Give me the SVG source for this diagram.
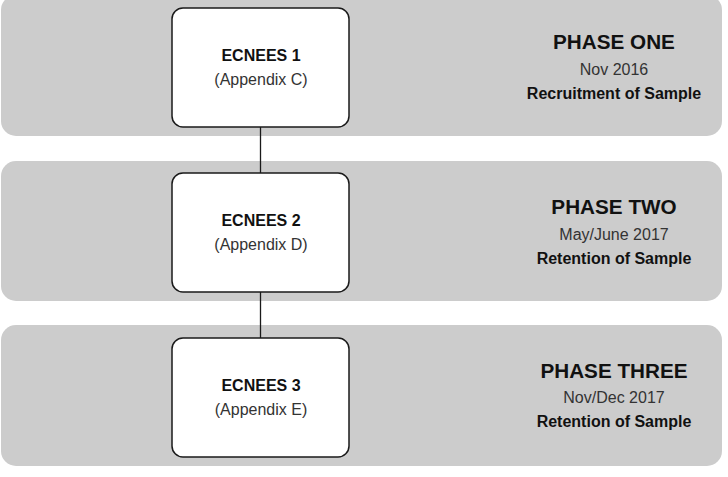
<svg xmlns="http://www.w3.org/2000/svg" width="728" height="477" viewBox="0 0 728 477">
<style>
.band{fill:#cccccc;stroke:none}
.node{fill:#ffffff;stroke:#1a1a1a;stroke-width:1.5}
.conn{stroke:#1a1a1a;stroke-width:1.3;fill:none}
text{font-family:"Liberation Sans",Arial,sans-serif;text-anchor:middle;fill:#111}
.nt{font-size:16px;font-weight:bold}
.ns{font-size:16px;fill:#333}
.pt{font-size:20.7px;font-weight:bold}
.pd{font-size:16px;fill:#333}
.pb{font-size:16px;font-weight:bold}
</style>
<g id="bands">
<rect class="band" x="1" y="-5" width="721" height="141" rx="15"/>
<rect class="band" x="1" y="161" width="721" height="140" rx="15"/>
<rect class="band" x="1" y="325" width="721" height="141" rx="15"/>
</g>
<g id="phase1">
<text class="pt" x="614" y="49">PHASE ONE</text>
<text class="pd" x="614" y="75">Nov 2016</text>
<text class="pb" x="614" y="99">Recruitment of Sample</text>
</g>
<g id="phase2">
<text class="pt" x="614" y="214">PHASE TWO</text>
<text class="pd" x="614" y="240">May/June 2017</text>
<text class="pb" x="614" y="264">Retention of Sample</text>
</g>
<g id="phase3">
<text class="pt" x="614" y="378">PHASE THREE</text>
<text class="pd" x="614" y="403">Nov/Dec 2017</text>
<text class="pb" x="614" y="427">Retention of Sample</text>
</g>
<g id="connectors">
<line class="conn" x1="260.5" y1="127" x2="260.5" y2="173"/>
<line class="conn" x1="260.5" y1="292" x2="260.5" y2="338"/>
</g>
<g id="node1">
<rect class="node" x="172" y="8" width="177" height="119" rx="11"/>
<text class="nt" x="261" y="61">ECNEES 1</text>
<text class="ns" x="261" y="85">(Appendix C)</text>
</g>
<g id="node2">
<rect class="node" x="172" y="173" width="177" height="119" rx="11"/>
<text class="nt" x="261" y="226">ECNEES 2</text>
<text class="ns" x="261" y="250">(Appendix D)</text>
</g>
<g id="node3">
<rect class="node" x="172" y="338" width="177" height="119" rx="11"/>
<text class="nt" x="261" y="391">ECNEES 3</text>
<text class="ns" x="261" y="415">(Appendix E)</text>
</g>
</svg>
